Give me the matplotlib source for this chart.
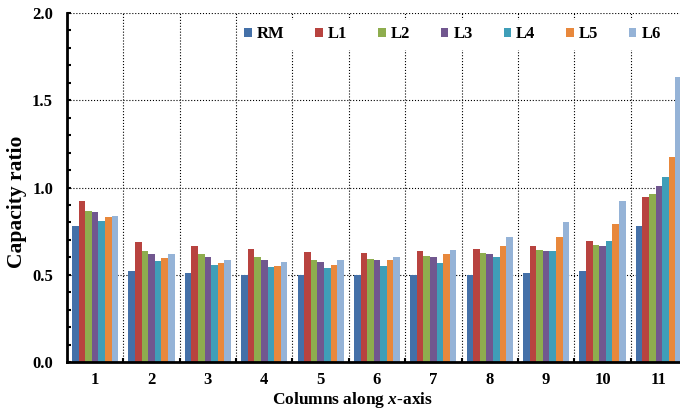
import numpy as np
import matplotlib
matplotlib.use("Agg")
from matplotlib import pyplot as plt
from matplotlib.ticker import MultipleLocator

plt.rcParams['font.family'] = ['Liberation Serif', 'DejaVu Serif']
plt.rcParams['font.weight'] = 'bold'
plt.rcParams['mathtext.fontset'] = 'custom'
plt.rcParams['mathtext.it'] = 'Liberation Serif:italic:bold'
plt.rcParams['mathtext.rm'] = 'Liberation Serif:bold'

# 数据
columns = ['1', '2', '3', '4', '5', '6', '7', '8', '9', '10', '11']
series = ['RM', 'L1', 'L2', 'L3', 'L4', 'L5', 'L6']
RM = [0.778, 0.519, 0.508, 0.496, 0.500, 0.500, 0.500, 0.496, 0.508, 0.519, 0.778]
L1 = [0.923, 0.690, 0.663, 0.646, 0.633, 0.625, 0.637, 0.648, 0.665, 0.694, 0.948]
L2 = [0.865, 0.638, 0.617, 0.600, 0.587, 0.590, 0.608, 0.625, 0.642, 0.669, 0.963]
L3 = [0.857, 0.621, 0.600, 0.587, 0.573, 0.587, 0.600, 0.621, 0.638, 0.665, 1.007]
L4 = [0.807, 0.579, 0.558, 0.542, 0.538, 0.548, 0.565, 0.600, 0.638, 0.694, 1.063]
L5 = [0.830, 0.596, 0.569, 0.552, 0.558, 0.583, 0.621, 0.665, 0.719, 0.788, 1.175]
L6 = [0.836, 0.617, 0.587, 0.573, 0.585, 0.604, 0.642, 0.719, 0.802, 0.923, 1.635]
colors = ['#4470A8', '#B8433F', '#8EAD4E', '#71578F', '#3F9EB8', '#E8883C', '#95B3D7']

data = [RM, L1, L2, L3, L4, L5, L6]
x = np.arange(1, len(columns) + 1)
w = 0.117

fig = plt.figure(figsize=(6.8, 4.11), dpi=100)
ax = fig.add_axes([67 / 680, 49 / 411, 620 / 680, 349 / 411])

for i, (vals, c, name) in enumerate(zip(data, colors, series)):
    ax.bar(x + (i - 3) * w, vals, w, color=c, label=name, zorder=2)

ax.set_xlim(0.5, len(columns) + 0.5)
ax.set_ylim(0, 2.0)
ax.set_xticks(x)
ax.set_xticklabels(columns, fontsize=12, fontweight='bold')
ax.set_xticks(np.arange(1.5, len(columns), 1.0), minor=True)
ax.yaxis.set_minor_locator(MultipleLocator(0.1))
ax.set_yticks([0, 0.5, 1.0, 1.5, 2.0])
ax.set_yticklabels(['0.0', '0.5', '1.0', '1.5', '2.0'], fontsize=12, fontweight='bold')
ax.tick_params(axis='both', which='both', direction='in', length=3, width=1.5)
ax.tick_params(axis='x', pad=7)
ax.tick_params(axis='y', pad=10)

ax.grid(True, which='major', axis='y', linestyle=':', color='black', linewidth=0.8, zorder=0)
ax.grid(True, which='minor', axis='x', linestyle=':', color='black', linewidth=0.8, zorder=0)
ax.set_axisbelow(True)

for s in ['top', 'right']:
    ax.spines[s].set_visible(False)
ax.spines['left'].set_linewidth(2)
ax.spines['bottom'].set_linewidth(2)

ax.set_ylabel('Capacity ratio', fontsize=15.5, fontweight='bold')
ax.yaxis.set_label_coords(-0.064, 0.458)
ax.set_xlabel('Columns along $x$-axis', fontsize=12.5, fontweight='bold')
ax.xaxis.set_label_coords(0.46, -0.08)

leg = ax.legend(ncol=7, loc='upper left', bbox_to_anchor=(0.262, 1.005), frameon=True,
                fancybox=False, edgecolor='white', framealpha=1.0,
                prop={'size': 12, 'weight': 'bold'}, handlelength=0.45, handleheight=0.45,
                handletextpad=0.3, columnspacing=1.85, borderpad=0.4)
leg.set_zorder(5)

fig.savefig('out.png', dpi=100)
